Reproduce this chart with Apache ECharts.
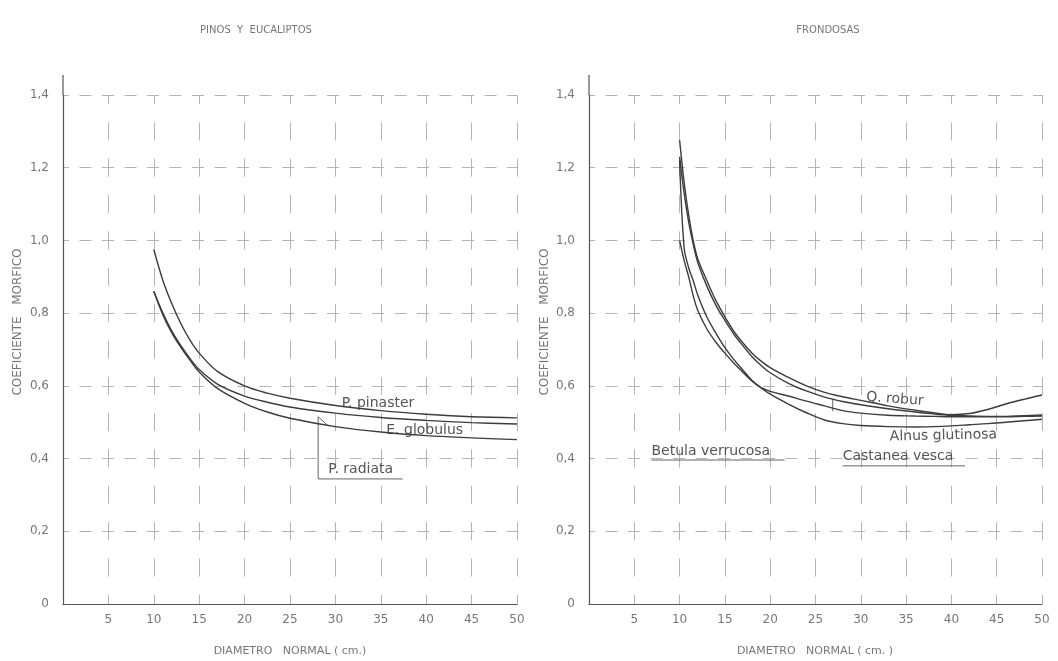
<!DOCTYPE html>
<html><head><meta charset="utf-8">
<script src="https://cdn.jsdelivr.net/npm/echarts@6/dist/echarts.min.js"></script>
<style>html,body{margin:0;padding:0;background:#fff}#c{width:1058px;height:661px}</style>
</head><body><div id="c"></div>
<script>
// ---- data ----
const xTicks = [5,10,15,20,25,30,35,40,45,50];
const yTicks = [0,0.2,0.4,0.6,0.8,1.0,1.2,1.4];

// Pinos y eucaliptos
const leftD = [10,11,12,13,14,15,17,20,22.5,25,30,35,40,45,50];
const pPinaster = [0.975,0.89,0.825,0.77,0.725,0.69,0.64,0.60,0.58,0.566,0.546,0.532,0.522,0.515,0.512];
const eGlobulus = [0.86,0.80,0.75,0.71,0.675,0.645,0.605,0.572,0.555,0.542,0.525,0.513,0.505,0.499,0.495];
const pRadiata  = [0.86,0.795,0.745,0.705,0.67,0.638,0.593,0.552,0.528,0.511,0.488,0.473,0.463,0.457,0.452];

// Frondosas
const rightD = [10,10.5,11,11.5,12,13,14,15,16,17,18,19,20,22,24,26,28,30,33,36,38,40,42,44,46,48,50];
const qRobur    = [1.276,1.16,1.07,1.0,0.95,0.89,0.835,0.79,0.75,0.718,0.69,0.668,0.65,0.623,0.6,0.582,0.57,0.56,0.545,0.533,0.526,0.521,0.524,0.535,0.55,0.563,0.575];
const alnusGlut = [1.23,1.13,1.05,0.99,0.94,0.875,0.822,0.78,0.742,0.71,0.68,0.656,0.636,0.607,0.586,0.569,0.557,0.548,0.537,0.528,0.523,0.519,0.517,0.516,0.516,0.518,0.52];
const betulaVerr = [1.0,0.945,0.9,0.848,0.808,0.757,0.72,0.69,0.662,0.637,0.613,0.595,0.585,0.572,0.558,0.545,0.532,0.525,0.519,0.517,0.516,0.515,0.515,0.515,0.515,0.516,0.517];
const castaneaV = [1.22,0.98,0.925,0.89,0.85,0.79,0.745,0.705,0.672,0.643,0.615,0.594,0.577,0.55,0.526,0.506,0.496,0.491,0.488,0.487,0.488,0.49,0.493,0.496,0.5,0.504,0.508];

// annotations (data coordinates)
const leftLabels = [
  {text:'P. pinaster', d:30.7, v:0.553, rot:0},
  {text:'E. globulus', d:35.6, v:0.477, rot:0},
  {text:'P. radiata', d:29.2, v:0.371, rot:0}
];
const rightLabels = [
  {text:'Q. robur', d:30.6, v:0.569, rot:-0.07},
  {text:'Alnus glutinosa', d:33.2, v:0.46, rot:0.02},
  {text:'Betula verrucosa', d:6.9, v:0.421, rot:0},
  {text:'Castanea vesca', d:28, v:0.407, rot:0}
];
const leftLeaders = [ [[28.1,0.344],[37.4,0.344]], [[28.1,0.344],[28.1,0.515],[29.2,0.49]] ];
const rightLeaders = [ [[6.9,0.396],[21.6,0.396]], [[28,0.38],[41.5,0.38]], [[26.9,0.53],[26.9,0.565]] ];

// ---- chart ----
const FONT = 'DejaVu Sans';
const TXT = '#777';
const chart = echarts.init(document.getElementById('c'));
const pairs = (xs, ys) => xs.map((x,i)=>[x, ys[i]]);

function xAx(gi){
  return {gridIndex:gi, type:'value', min:0, max:50, interval:5,
    axisLine:{show:true, onZero:false, lineStyle:{color:'#555', width:1.2}},
    axisTick:{show:false},
    axisLabel:{color:TXT, fontFamily:FONT, fontSize:12, margin:10,
      formatter:v => v===0 ? '' : String(v)},
    splitLine:{show:true, lineStyle:{color:'#b4b4b4', width:1, type:[18,18.35], dashOffset:9}}
  };
}
function yAx(gi){
  return {gridIndex:gi, type:'value', min:0, max:1.4, interval:0.2,
    axisLine:{show:true, onZero:false, lineStyle:{color:'#555', width:1.2}},
    axisTick:{show:false},
    axisLabel:{color:TXT, fontFamily:FONT, fontSize:12, margin:14,
      formatter:v => v===0 ? '0' : v.toFixed(1).replace('.',',')},
    splitLine:{show:true, lineStyle:{color:'#b4b4b4', width:1, type:[12,10.5], dashOffset:6}}
  };
}
function line(name, gi, xs, ys){
  return {name, type:'line', xAxisIndex:gi, yAxisIndex:gi, data:pairs(xs, ys),
    showSymbol:false, smooth:0.35, silent:true,
    lineStyle:{color:'#3c3c3c', width:1.4}};
}

chart.setOption({
  animation:false,
  backgroundColor:'#fff',
  grid:[
    {left:63, top:95, width:454, height:509},
    {left:589, top:95, width:453, height:509}
  ],
  xAxis:[xAx(0), xAx(1)],
  yAxis:[yAx(0), yAx(1)],
  series:[
    line('P. pinaster',0,leftD,pPinaster),
    line('E. globulus',0,leftD,eGlobulus),
    line('P. radiata',0,leftD,pRadiata),
    line('Q. robur',1,rightD,qRobur),
    line('Alnus glutinosa',1,rightD,alnusGlut),
    line('Betula verrucosa',1,rightD,betulaVerr),
    line('Castanea vesca',1,rightD,castaneaV)
  ]
});

const g = [];
function px(gi, d, v){ return chart.convertToPixel({gridIndex:gi}, [d, v]); }
function addLabels(gi, arr){
  arr.forEach(l => {
    const p = px(gi, l.d, l.v);
    g.push({type:'text', x:p[0], y:p[1], rotation:l.rot, silent:true,
      style:{text:l.text, fill:'#555', font:'14px "'+FONT+'"', textVerticalAlign:'middle', textAlign:'left'}});
  });
}
function addLeaders(gi, arr){
  arr.forEach(pts => {
    g.push({type:'polyline', silent:true, shape:{points:pts.map(q=>px(gi,q[0],q[1]))},
      style:{stroke:'#666', lineWidth:1, fill:null}});
  });
}
addLabels(0, leftLabels); addLabels(1, rightLabels);
addLeaders(0, leftLeaders); addLeaders(1, rightLeaders);
// y-axis extension above 1.4
[0,1].forEach(gi => {
  const a = px(gi, 0, 1.4), b = px(gi, 0, 1.455);
  g.push({type:'line', silent:true, shape:{x1:a[0], y1:a[1], x2:b[0], y2:b[1]}, style:{stroke:'#555', lineWidth:1.2}});
});
// titles
const titleStyle = (t, x, y, rot, size) => ({type:'text', x, y, rotation:rot||0, silent:true,
  style:{text:t, fill:TXT, font:(size||11)+'px "'+FONT+'"', textAlign:'center', textVerticalAlign:'middle'}});
g.push(titleStyle('PINOS  Y  EUCALIPTOS', 256, 30, 0, 10));
g.push(titleStyle('FRONDOSAS', 828, 30, 0, 10));
g.push(titleStyle('DIAMETRO   NORMAL ( cm.)', 290, 651, 0, 11));
g.push(titleStyle('DIAMETRO   NORMAL ( cm. )', 815, 651, 0, 11));
g.push(titleStyle('COEFICIENTE   MORFICO', 18, 322, Math.PI/2, 12));
g.push(titleStyle('COEFICIENTE   MORFICO', 545, 322, Math.PI/2, 12));
chart.setOption({graphic:g});
</script></body></html>
